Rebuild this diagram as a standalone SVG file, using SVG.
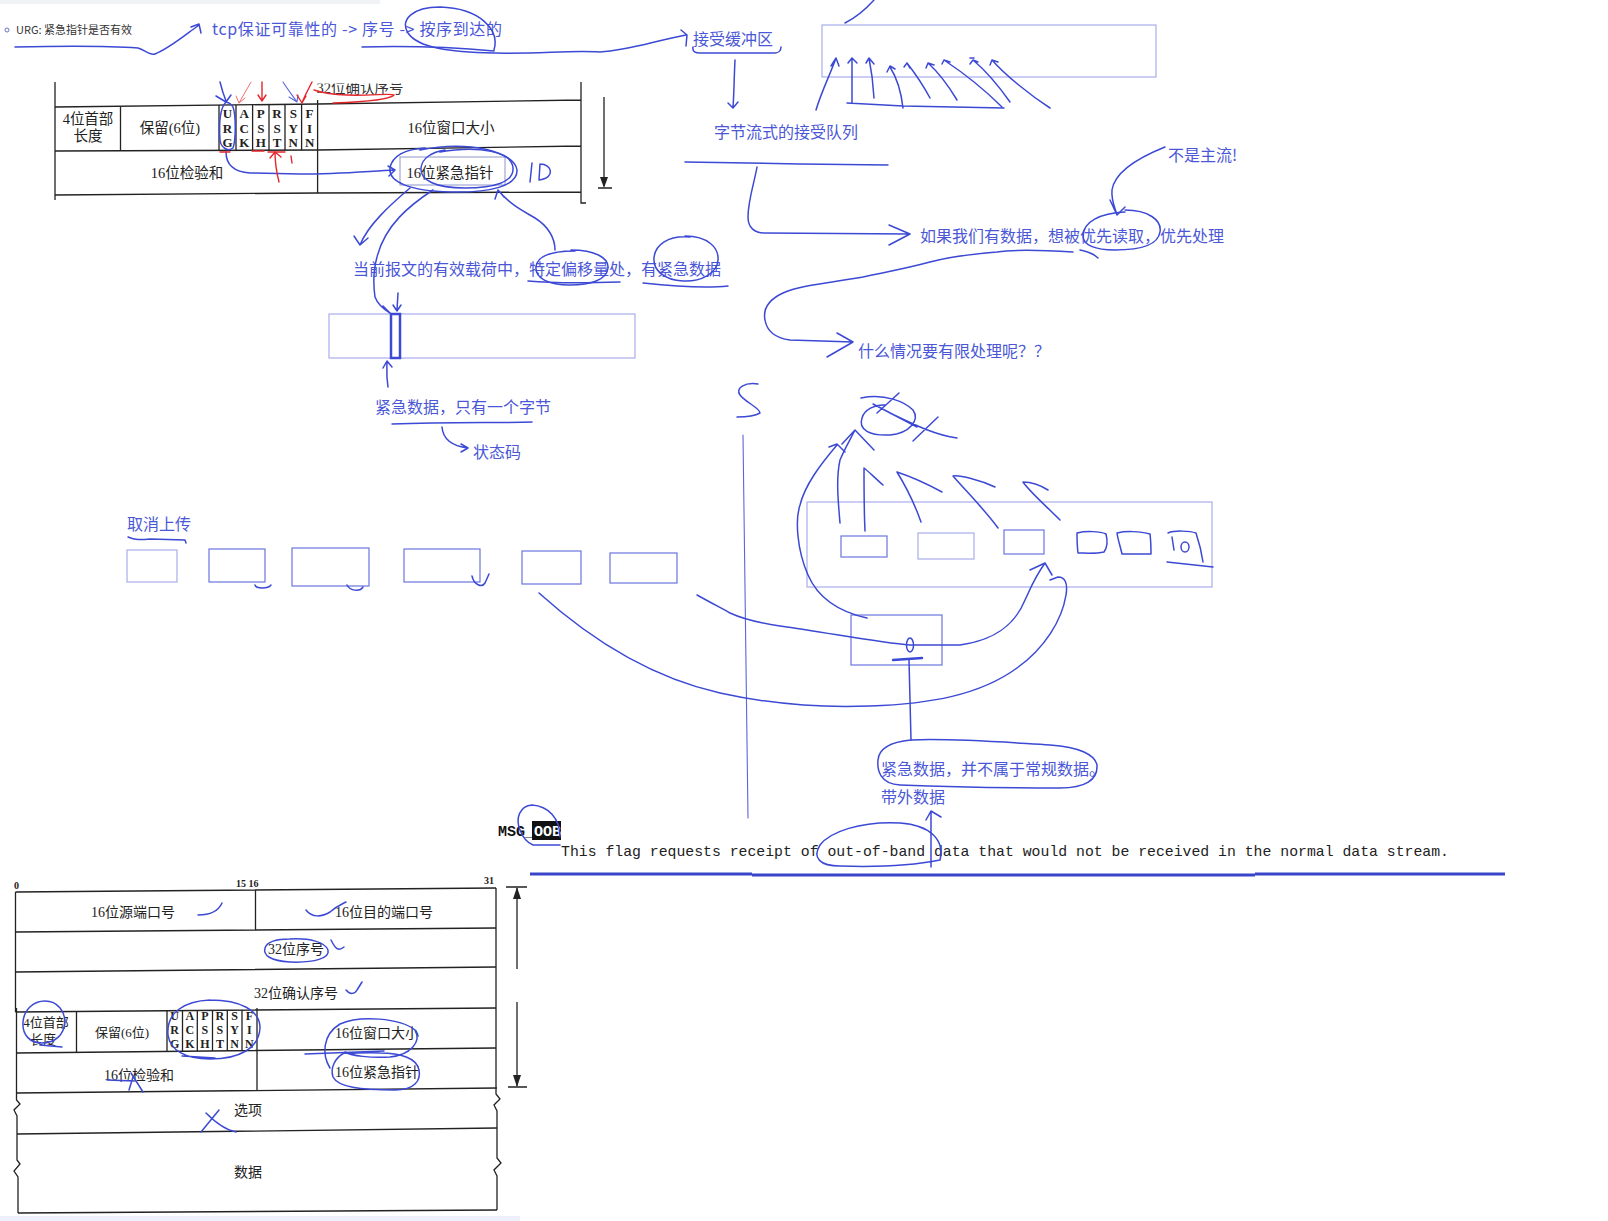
<svg xmlns="http://www.w3.org/2000/svg" width="1608" height="1221" viewBox="0 0 1608 1221">
<defs>
<style>
.pen{fill:none;stroke:#3c49d4;stroke-width:1.5;stroke-linecap:round;stroke-linejoin:round}
.pt{fill:none;stroke:#5a66dc;stroke-width:1.1;stroke-linecap:round;stroke-linejoin:round}
.red{fill:none;stroke:#e5262b;stroke-width:1.4;stroke-linecap:round}
.redt{fill:none;stroke:#f07070;stroke-width:1;stroke-linecap:round}
.lt{fill:none;stroke:#a8aeea;stroke-width:1.2}
.md{fill:none;stroke:#6c75de;stroke-width:1.2}
.bk{fill:none;stroke:#222;stroke-width:1.3}
.bt{fill:#4b57d6;font-family:"Noto Sans CJK SC","Noto Sans",sans-serif;font-size:16px}
.st{fill:#222;font-family:"Liberation Serif","Noto Sans CJK SC",serif;font-size:14.5px;text-anchor:middle}
.fl{fill:#222;font-family:"Liberation Serif",serif;font-size:13px;font-weight:bold;text-anchor:middle}
.sb{fill:#222;font-family:"Liberation Serif","Noto Sans CJK SC",serif;font-size:14px;text-anchor:middle}
.num{fill:#222;font-family:"Liberation Serif",serif;font-size:10px;font-weight:bold}
</style>
<clipPath id="topclip"><rect x="0" y="83.5" width="700" height="140"/></clipPath>
</defs>
<rect width="1608" height="1221" fill="#fff"/>
<rect x="0" y="0" width="380" height="4" fill="#f1f2f6"/>
<rect x="0" y="1216" width="520" height="5" fill="#eef1fb"/>

<!-- top note -->
<g id="urg-note">
<circle cx="7" cy="30" r="2" fill="none" stroke="#6a78c8" stroke-width="1"/>
<text x="16" y="34" style="font-family:'Noto Sans CJK SC',sans-serif;font-size:11px;fill:#333">URG: 紧急指针是否有效</text>
</g>
<g id="tcp-note"><text class="bt" x="212" y="35" textLength="290" lengthAdjust="spacing">tcp保证可靠性的 -&gt; 序号 -&gt; 按序到达的</text></g>
<g id="recv-buf"><text class="bt" x="693" y="45">接受缓冲区</text></g>
<g id="byte-queue"><text class="bt" x="714" y="138">字节流式的接受队列</text></g>
<g id="not-main"><text class="bt" x="1168" y="161">不是主流!</text></g>
<g id="priority"><text class="bt" x="920" y="242">如果我们有数据，想被优先读取，优先处理</text></g>
<g id="payload"><text class="bt" x="353" y="275">当前报文的有效载荷中，特定偏移量处，有紧急数据</text></g>
<g id="when"><text class="bt" x="858" y="357">什么情况要有限处理呢？？</text></g>
<g id="one-byte"><text class="bt" x="375" y="413">紧急数据，只有一个字节</text></g>
<g id="status"><text class="bt" x="473" y="458">状态码</text></g>
<g id="cancel"><text class="bt" x="127" y="530">取消上传</text></g>
<g id="oob-cn"><text class="bt" x="881" y="775">紧急数据，并不属于常规数据。</text><text class="bt" x="881" y="803">带外数据</text></g>

<!-- top header fragment -->
<g id="header-top">
<g clip-path="url(#topclip)"><text class="st" x="360" y="93" style="fill:#333">32位确认序号</text></g>
<path class="bk" d="M55,107 L318,104 L581,100 M55,151 L318,150 L581,146 M55,195 L318,193 L581,192 M55,82 L55,200 M581,82 L581,203 L586,203"/>
<path class="bk" d="M120.5,107 V151 M219,105 V151 M236,105 V151 M252.6,105 V151 M269,105 V151 M285,104 V150 M301.6,104 V150 M317.6,100 V193"/>
<text class="st" x="88" y="124">4位首部</text>
<text class="st" x="88" y="141">长度</text>
<text class="st" x="170" y="133">保留(6位)</text>
<g class="fl">
<text x="227.5" y="118">U</text><text x="227.5" y="133">R</text><text x="227.5" y="147">G</text>
<text x="244.3" y="118">A</text><text x="244.3" y="133">C</text><text x="244.3" y="147">K</text>
<text x="260.8" y="118">P</text><text x="260.8" y="133">S</text><text x="260.8" y="147">H</text>
<text x="277" y="118">R</text><text x="277" y="133">S</text><text x="277" y="147">T</text>
<text x="293.3" y="118">S</text><text x="293.3" y="133">Y</text><text x="293.3" y="147">N</text>
<text x="309.6" y="118">F</text><text x="309.6" y="133">I</text><text x="309.6" y="147">N</text>
</g>
<text class="st" x="451" y="133">16位窗口大小</text>
<text class="st" x="187" y="178">16位检验和</text>
<rect x="400" y="157" width="105" height="28" fill="none" stroke="#8e95c8" stroke-width="1"/>
<text class="st" x="450" y="178">16位紧急指针</text>
<path class="bk" d="M604,97 L604,186 M598,188 L612,188"/>
<polygon points="600,177 604,188 608,177" fill="#222"/>
</g>

<!-- top-right buffer -->
<g id="buffer-box"><rect class="lt" x="822" y="25" width="334" height="52"/></g>
<!-- middle payload -->
<g id="payload-box"><rect class="lt" x="329" y="314" width="306" height="44"/>
<rect x="391" y="314" width="9" height="44" fill="none" stroke="#3c49d4" stroke-width="2.5"/></g>
<!-- left row of boxes -->
<g id="upload-boxes">
<rect class="lt" x="127" y="550" width="50" height="32"/>
<rect class="md" x="209" y="549" width="56" height="33"/>
<rect class="md" x="292" y="548" width="77" height="38"/>
<rect class="md" x="404" y="549" width="76" height="33"/>
<rect class="md" x="522" y="551" width="59" height="33"/>
<rect class="md" x="610" y="553" width="67" height="30"/>
</g>
<!-- right queue -->
<g id="queue-box"><rect class="lt" x="807" y="502" width="405" height="85"/>
<rect class="md" x="841" y="536" width="46" height="21"/>
<rect class="lt" x="918" y="533" width="56" height="26"/>
<rect class="md" x="1004" y="530" width="40" height="24"/>
</g>
<g id="zero-box"><rect class="md" x="851" y="615" width="91" height="50"/></g>

<!-- MSG_OOB -->
<g id="msg-oob">
<rect x="532" y="821" width="29" height="19" fill="#111"/>
<text x="498" y="836" style="font-family:'Liberation Mono',monospace;font-size:15px;font-weight:bold;fill:#111">MSG_<tspan fill="#fff">OOB</tspan></text>
<text x="561" y="856" style="font-family:'Liberation Mono',monospace;font-size:14.8px;fill:#222">This flag requests receipt of out-of-band data that would not be received in the normal data stream.</text>
</g>

<!-- bottom header -->
<g id="header-bottom">
<text class="num" x="14" y="889">0</text>
<text class="num" x="236" y="887">15 16</text>
<text class="num" x="484" y="884">31</text>
<path class="bk" d="M15.5,892 L496,888 M15.5,932 L496,928 M15.5,972 L496,967 M15.5,1012 L496,1008 M16.5,1053 L496,1048 M17,1093 L497,1088 M17,1134 L497,1128 M18,1213 L497,1210"/>
<path class="bk" d="M15.5,892 L15.5,1012 M16.5,1008 L16.5,1100 L20,1104 L14,1110 L17,1116 L17,1160 L20,1164 L14,1171 L18,1177 L18,1213"/>
<path class="bk" d="M496,888 L496,1094 L500,1099 L494,1105 L497,1111 L497,1158 L501,1163 L494,1170 L497,1176 L497,1210"/>
<path class="bk" d="M255.5,890 V930 M76.5,1012 V1053 M167,1010 V1052 M182.5,1010 V1051 M197.3,1010 V1051 M212.5,1010 V1051 M227.3,1010 V1051 M242,1010 V1051 M257,1008 V1090"/>
<text class="sb" x="133" y="917">16位源端口号</text>
<text class="sb" x="384" y="917">16位目的端口号</text>
<text class="sb" x="296" y="954">32位序号</text>
<text class="sb" x="296" y="998">32位确认序号</text>
<text class="sb" x="46" y="1027" style="font-size:13px">4位首部</text>
<text class="sb" x="43" y="1044" style="font-size:13px">长度</text>
<text class="sb" x="122" y="1037" style="font-size:13px">保留(6位)</text>
<g class="fl" style="font-size:12px">
<text x="174.7" y="1020">U</text><text x="174.7" y="1034">R</text><text x="174.7" y="1048">G</text>
<text x="189.9" y="1020">A</text><text x="189.9" y="1034">C</text><text x="189.9" y="1048">K</text>
<text x="204.9" y="1020">P</text><text x="204.9" y="1034">S</text><text x="204.9" y="1048">H</text>
<text x="219.9" y="1020">R</text><text x="219.9" y="1034">S</text><text x="219.9" y="1048">T</text>
<text x="234.6" y="1020">S</text><text x="234.6" y="1034">Y</text><text x="234.6" y="1048">N</text>
<text x="249.3" y="1020">F</text><text x="249.3" y="1034">I</text><text x="249.3" y="1048">N</text>
</g>
<text class="sb" x="377" y="1038">16位窗口大小</text>
<text class="sb" x="139" y="1080">16位检验和</text>
<text class="sb" x="377" y="1077">16位紧急指针</text>
<text class="sb" x="248" y="1115">选项</text>
<text class="sb" x="248" y="1177">数据</text>
<path class="bk" d="M506,887 L527,887 M517,888 L517,969 M517,1002 L517,1086 M508,1087 L527,1087"/>
<polygon points="513,899 517,887 521,899" fill="#222"/>
<polygon points="513,1075 517,1087 521,1075" fill="#222"/>
</g>

<!-- connectors / pen strokes -->
<g id="connectors">
<path class="pen" d="M15,47 C60,46 110,46 138,48 C145,50 150,56 155,54 C170,48 185,35 199,25 M191,27 L199,24 L201,33"/>
<path class="pen" d="M362,47 C400,46 450,47 494,51"/>
<path class="pen" d="M494,50 C500,30 480,8 440,7 C412,7 400,20 408,33 C418,48 450,52 494,53 C540,54 570,50 600,52 C630,50 650,42 686,35 M681,30 L687,35 L686,46"/>
<path class="pen" d="M693,47 C692,52 696,53 700,53 L775,53 C779,53 781,50 781,47"/>
<path class="pen" d="M735,60 C734,80 734,95 733,107 M728,103 L733,108 L738,102"/>
<path class="pen" d="M685,162 L800,164 L888,165"/>
<path class="pen" d="M757,167 C755,180 748,200 748,217 C748,228 755,233 764,233 L910,234 M889,225 L910,234 L889,245"/>
<path class="pen" d="M1165,147 C1145,155 1115,170 1112,190 C1111,200 1115,208 1117,215 M1110,200 L1117,215 L1125,207"/>
<path class="pen" d="M1125,210 C1148,210 1162,220 1160,232 C1158,245 1140,250 1115,250 C1095,250 1083,245 1083,236 C1083,222 1100,213 1125,212 M1080,250 C1090,252 1095,255 1098,258"/>
<path class="pen" d="M1073,252 C1040,250 1010,250 997,252 C960,255 945,258 930,262 C900,270 880,273 863,277 C830,283 800,285 783,293 C768,300 763,310 765,320 C767,332 775,338 790,340 L853,342 M837,333 L853,342 L827,357"/>
<path class="pen" d="M874,0 C865,10 855,18 845,23"/>
<path class="pen" d="M816,110 C822,90 830,75 836,58 M831,66 L836,58 L839,66"/>
<path class="pen" d="M852,103 L852,58 M848,63 L852,58 L857,63 M847,103 L903,106 L1004,108"/>
<path class="pen" d="M874,98 C873,80 871,68 869,58 M866,63 L869,58 L874,64"/>
<path class="pen" d="M903,108 C901,90 897,78 890,67 M887,72 L890,66 L895,69"/>
<path class="pen" d="M930,98 C923,85 914,72 907,63 M904,67 L907,63 L910,68"/>
<path class="pen" d="M957,100 C948,85 938,72 928,63 M926,68 L928,63 L934,65"/>
<path class="pen" d="M1002,107 C985,90 962,72 944,60 M942,64 L944,60 L950,62"/>
<path class="pen" d="M1010,102 C998,85 985,70 973,60 M970,64 L973,60 L978,62 M970,58 L974,58"/>
<path class="pen" d="M1050,108 C1030,95 1005,75 992,60 M990,65 L992,60 L998,62"/>
<path class="pen" d="M226,102 C220,108 219,125 220,140 C221,148 228,152 233,148 C236,140 236,115 233,107 C231,103 226,102 226,102"/>
<path class="pen" d="M220,82 C222,90 224,96 226,101 M216,96 L226,102 L231,95"/>
<path class="pt" d="M283,82 C288,90 293,96 297,102 M289,97 L297,102 L298,95"/>
<path class="pen" d="M226,152 C226,165 235,172 250,173 L300,174 C340,174 370,171 395,170 M388,166 L395,170 L389,176"/>
<path class="pen" d="M420,150 C470,140 515,152 517,170 C518,186 490,193 450,192 C410,191 388,182 390,168 C392,156 405,149 425,148"/>
<path class="pen" d="M440,152 C480,145 512,152 513,168 C514,182 495,188 465,188 C435,188 420,180 421,168 C422,158 432,152 445,150"/>
<path class="pen" d="M532,163 L530,182 M540,164 L539,180 M540,164 C552,164 556,178 539,180"/>
<path class="redt" d="M251,82 L239,103 M236,96 L239,103 L245,98"/>
<path class="red" d="M262,82 L262,101 M258,95 L262,101 L266,95"/>
<path class="red" d="M312,82 C308,90 304,97 302,103 M297,95 L302,103 L306,96"/>
<path class="red" d="M314,90 C345,100 390,92 394,95 C390,100 360,102 333,103"/>
<path class="red" d="M220,152 L230,152 M252,151 L264,151 M268,152 L285,152"/>
<path class="red" d="M279,182 C276,170 275,160 275,152 M270,158 L275,152 L281,157 M291,156 L292,163"/>
<path class="pen" d="M410,188 C390,205 368,225 360,245 M354,236 L360,245 L368,238"/>
<path class="pen" d="M433,190 C410,205 385,225 377,257 C372,275 374,290 375,297 C378,305 385,310 390,313 M383,306 L390,313"/>
<path class="pen" d="M398,293 L397,310 M393,305 L397,311 L401,305"/>
<path class="pen" d="M498,190 C510,205 525,212 535,218 C548,226 555,238 555,250 M495,199 L498,190 L504,197"/>
<path class="pen" d="M571,250 C595,250 609,258 608,268 C607,280 590,285 570,285 C548,285 535,278 536,267 C537,256 552,251 575,251"/>
<path class="pen" d="M685,236 C708,236 719,248 718,260 C717,274 700,282 683,281 C664,280 653,270 654,258 C655,245 668,235 690,237"/>
<path class="pen" d="M528,281 C560,284 590,283 620,282 M643,283 C680,287 710,288 728,286"/>
<path class="pen" d="M388,387 C386,375 387,368 387,362 M383,368 L387,361 L392,367"/>
<path class="pen" d="M392,424 C450,422 500,423 532,422"/>
<path class="pen" d="M442,427 C443,440 452,446 468,448 M461,444 L468,448 L461,452"/>
<path class="pen" d="M128,537 C135,540 140,540 150,539 L185,540 L186,543"/>
<path class="pen" d="M255,585 C256,589 268,589 271,585"/>
<path class="pen" d="M347,585 C350,591 360,592 363,587"/>
<path class="pen" d="M472,576 C474,585 482,588 485,583 L489,574"/>
<path class="pen" d="M758,384 C745,382 735,388 740,395 C745,402 760,408 760,413 C755,416 745,417 737,417"/>
<path class="pt" d="M743,435 L748,818"/>
<path class="pen" d="M861,398 C885,393 905,402 913,410 C920,420 910,433 890,435 C870,436 858,430 862,418 C864,410 875,404 885,405 M873,404 L917,427 M877,413 L899,393 M913,441 L938,417 M890,413 C915,425 935,435 957,438"/>
<path class="pen" d="M840,523 C838,500 836,478 840,460 C845,448 850,440 855,430 M842,444 L855,430 L874,450"/>
<path class="pen" d="M867,618 C840,612 818,598 808,575 C797,550 795,520 800,505 C805,485 820,465 837,445 M829,447 L837,444 L845,452"/>
<path class="pen" d="M865,531 C864,510 864,485 864,468 C867,470 875,478 883,485"/>
<path class="pen" d="M921,522 C915,505 905,485 897,472 C900,473 920,480 942,492"/>
<path class="pen" d="M998,528 C985,510 965,490 953,476 C960,475 980,480 995,487"/>
<path class="pen" d="M1060,520 C1045,505 1030,492 1023,482 C1030,482 1040,485 1048,490"/>
<path class="pen" d="M1077,533 C1085,531 1100,531 1106,534 C1108,542 1107,548 1104,552 C1095,554 1085,553 1078,553 C1077,545 1077,540 1077,533"/>
<path class="pen" d="M1117,533 C1125,531 1140,531 1150,534 C1151,542 1151,548 1151,554 L1122,554 C1120,545 1118,540 1117,533"/>
<path class="pen" d="M1168,533 C1175,530 1190,531 1196,533 C1200,545 1202,555 1203,562 M1172,537 L1174,550 M1167,562 L1213,567"/>
<ellipse class="pen" cx="1185" cy="547" rx="4" ry="5"/>
<ellipse class="pen" cx="910" cy="645" rx="3.5" ry="7"/>
<path class="pen" style="stroke-width:2.5" d="M893,660 L922,658"/>
<path class="pen" d="M909,660 L911,740"/>
<path class="pen" d="M697,595 C715,605 725,610 730,613 C745,620 760,623 780,626 C830,633 880,643 910,645 L960,645 C995,640 1015,625 1025,600 C1030,590 1033,580 1045,563 M1030,570 L1045,563 L1052,575"/>
<path class="pen" d="M539,593 C580,630 640,675 720,693 C770,704 820,708 870,706 C930,704 980,695 1017,668 C1045,648 1062,620 1066,595 C1068,583 1065,577 1058,577 L1050,580"/>
<path class="pen" d="M911,740 C950,738 1000,742 1050,745 C1080,747 1095,755 1097,765 C1098,780 1085,788 1060,788 C1010,788 950,787 900,785 C880,784 877,770 878,760 C879,748 890,742 911,740"/>
<path class="pen" d="M931,867 L931,812 M926,820 L931,811 L941,817"/>
<path class="pen" d="M940,860 C945,840 930,825 900,823 C860,821 830,832 820,845 C812,858 820,866 840,866 C870,867 910,866 940,860"/>
<path class="pen" d="M560,837 C560,818 548,806 532,805 C520,806 515,818 520,830 C523,838 528,843 533,845 L560,845"/>
<path d="M530,874 L752,874 M752,875 L1255,875 M1255,874 L1505,874" stroke="#3845c8" stroke-width="3" fill="none"/>
<path class="pen" d="M198,915 C208,915 218,912 222,903"/>
<path class="pen" d="M306,910 C312,918 322,917 330,912 C337,906 340,905 346,902"/>
<path class="pen" d="M290,939 C310,938 325,942 328,950 C330,958 315,963 290,962 C270,961 263,955 265,948 C267,942 275,939 290,939"/>
<path class="pen" d="M331,940 C335,948 338,952 344,947"/>
<path class="pen" d="M346,990 C350,995 355,994 357,990 L362,982"/>
<path class="pen" d="M45,1001 C58,1001 65,1012 65,1022 C64,1035 55,1043 42,1043 C30,1043 22,1035 23,1022 C24,1010 33,1001 45,1001 M40,1045 L62,1047"/>
<path class="pen" d="M210,1000 C240,1000 260,1010 260,1028 C259,1048 240,1059 210,1059 C185,1059 170,1050 168,1035 C166,1012 185,1001 210,1000 M182,1056 L215,1058"/>
<path class="pen" d="M330,1068 C322,1055 322,1035 340,1024 C360,1015 400,1018 415,1030 C422,1042 410,1055 390,1057 C370,1058 352,1056 345,1052"/>
<path class="pen" d="M344,1053 C335,1058 330,1068 333,1077 C338,1087 360,1090 395,1090 C415,1090 421,1080 419,1070 C417,1058 400,1053 380,1053 C365,1052 350,1054 344,1053"/>
<path class="pen" d="M305,1054 L384,1051"/>
<path class="pen" d="M107,1080 L134,1081 M131,1073 L143,1092 M133,1077 L129,1090"/>
<path class="pen" d="M201,1132 L219,1110 M206,1113 C215,1122 225,1130 236,1132"/>
</g>
</svg>
